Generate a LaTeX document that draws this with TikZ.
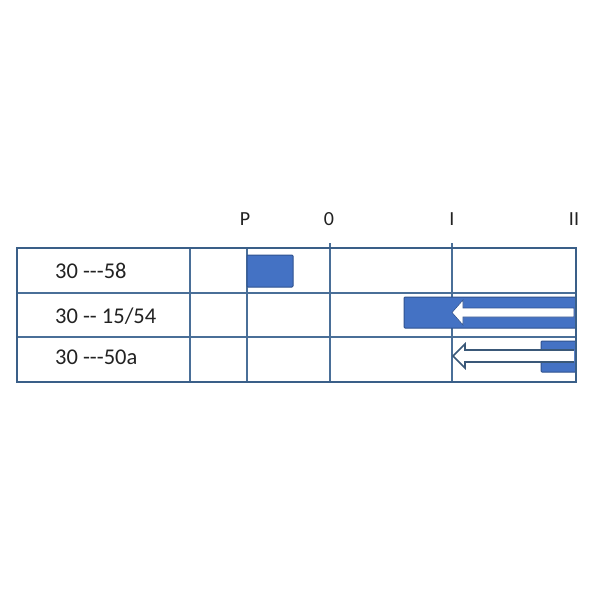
\documentclass[tikz,border=0pt]{standalone}
\usepackage{fontspec}
\setmainfont{Carlito}
\definecolor{gridc}{HTML}{4A6F98}
\definecolor{outc}{HTML}{3A5F88}
\definecolor{barfill}{HTML}{4472C4}
\definecolor{barline}{HTML}{2F528F}
\definecolor{arrline}{HTML}{3A5878}
\definecolor{txt}{HTML}{222222}
\newcommand{\hy}{-\kern0pt}
\tikzset{
  gridline/.style={draw=gridc, line width=1.1pt},
  outer/.style={draw=outc, line width=2pt},
  bar/.style={fill=barfill, draw=barline, line width=1pt, rounded corners=1pt},
  rowlab/.style={anchor=west, font=\fontsize{22.5}{24}\selectfont, text=txt, inner sep=0pt},
  collab/.style={anchor=center, font=\fontsize{20}{22}\selectfont, text=txt, inner sep=0pt},
  warrow/.style={fill=white, draw=barline, line width=0.6pt},
  oarrow/.style={fill=white, draw=arrline, line width=1.6pt, line join=miter},
}
\begin{document}
\begin{tikzpicture}[x=1pt,y=-1pt]
\useasboundingbox (0,0) rectangle (600,600);
\fill[white] (0,0) rectangle (600,600);
% grid
\draw[gridline] (17,293) -- (576,293);
\draw[gridline] (17,337) -- (576,337);
\draw[gridline] (190,248) -- (190,382);
\draw[gridline] (247,248) -- (247,382);
\draw[gridline] (330,243) -- (330,382);
\draw[gridline] (452,243) -- (452,382);
% bars
\draw[bar] (247,255) rectangle (293,287);
\draw[bar] (404,297) rectangle (576,328);
\draw[bar] (541,341) rectangle (576,372);
% arrows
\draw[warrow] (574,308) -- (463,308) -- (463,300) -- (452,312.5) -- (463,325) -- (463,317) -- (574,317) -- cycle;
\draw[oarrow] (574,350) -- (465,350) -- (465,344) -- (453,356) -- (465,368) -- (465,362) -- (574,362);
% outer border
\draw[outer] (17,248) rectangle (576,382);
% labels
\node[rowlab] (r1) at (55,271) {30 \hy\hy\hy58};
\node[rowlab] (r2) at (55,316) {30 \hy\hy{} 15/54};
\node[rowlab] (r3) at (55,357) {30 \hy\hy\hy50a};
\node[collab] (cP) at (245,219) {P};
\node[collab] (c0) at (329,219) {0};
\node[collab] (cI) at (452,219) {I};
\node[collab] (cII) at (574,219) {II};
\end{tikzpicture}
\end{document}
